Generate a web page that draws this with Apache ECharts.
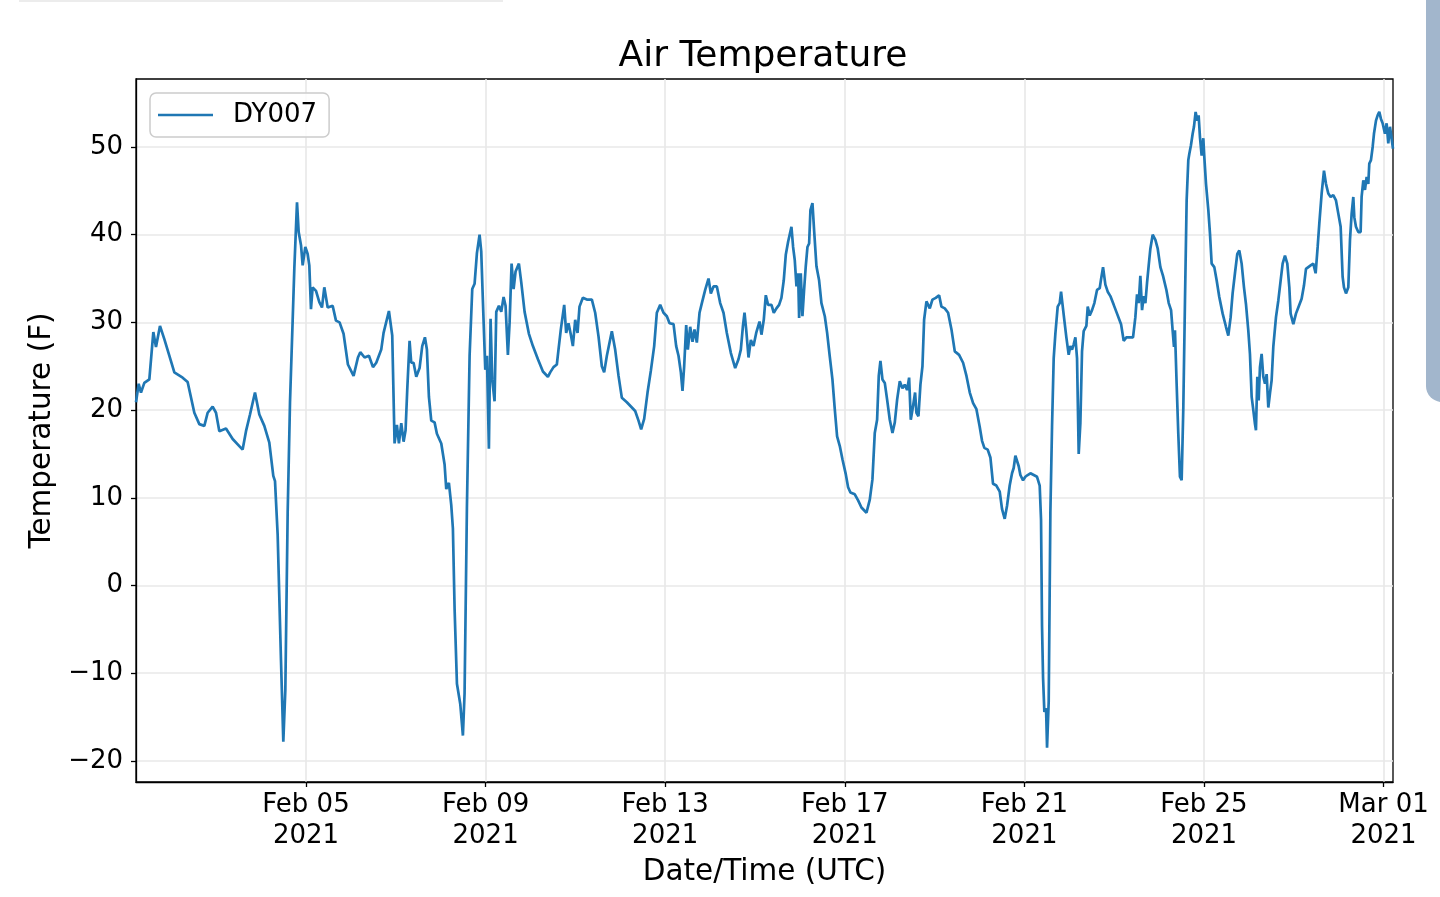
<!DOCTYPE html>
<html>
<head>
<meta charset="utf-8">
<script src="https://cdn.jsdelivr.net/npm/echarts@6/dist/echarts.min.js"></script>
<style>
html,body{margin:0;padding:0;background:#fff;}
#chart{width:1440px;height:897px;}
</style>
</head>
<body>
<div id="chart"></div>
<script>
const seriesName = 'DY007';
const chartTitle = 'Air Temperature';
const xAxisTitle = 'Date/Time (UTC)';
const yAxisTitle = 'Temperature (F)';
const startDate = '2021-02-01T00:00:00Z';

// time of each reading, in days after 2021-02-01 00:00 UTC
const daysSinceFeb01 = [
0.214,0.273,0.325,0.399,0.511,0.600,0.659,0.748,0.845,0.956,1.068,1.253,1.364,1.513,1.624,1.736,1.810,1.921,1.996,2.070,
2.218,2.367,2.515,2.589,2.664,2.753,2.864,2.961,3.072,3.183,3.272,3.310,3.369,3.443,3.495,3.540,3.592,3.644,3.703,3.740,
3.800,3.837,3.889,3.926,3.985,4.037,4.074,4.111,4.148,4.223,4.297,4.356,4.408,4.483,4.594,4.668,
4.748,4.837,4.934,5.060,5.157,5.209,5.305,5.402,5.492,5.565,5.676,5.728,5.847,5.921,5.973,6.025,6.070,6.122,6.174,6.218,
6.255,6.307,6.344,6.396,6.456,6.530,6.589,6.649,6.693,6.738,6.790,6.864,6.916,7.013,7.087,7.124,7.183,7.235,7.272,7.310,
7.362,7.436,7.495,7.532,7.584,7.644,7.703,7.755,7.807,7.866,7.903,7.941,7.993,8.030,8.074,8.111,8.148,8.200,8.238,8.297,
8.349,8.401,8.445,8.497,8.535,8.579,8.624,8.668,8.742,8.794,8.869,8.965,9.054,9.166,9.277,9.388,
9.439,9.513,9.587,9.624,9.676,9.751,9.795,9.847,9.899,9.944,9.996,10.048,10.092,10.166,10.255,10.367,10.441,10.515,10.589,10.641,
10.701,10.812,10.886,10.961,11.035,11.146,11.258,11.332,11.406,11.465,11.532,11.607,11.681,11.755,11.814,11.889,11.963,12.037,12.097,12.186,
12.245,12.297,12.349,12.386,12.423,12.468,12.505,12.557,12.609,12.653,12.705,12.765,12.817,12.891,12.965,13.017,13.076,13.151,13.225,13.299,
13.373,13.463,13.559,13.633,13.685,13.730,13.767,13.804,13.856,13.908,13.967,14.027,14.101,
14.144,14.196,14.241,14.292,14.367,14.419,14.478,14.537,14.589,14.641,14.686,14.738,14.812,14.849,14.886,14.924,14.961,14.983,15.020,15.057,
15.094,15.131,15.169,15.206,15.235,15.280,15.317,15.369,15.428,15.480,15.555,15.607,15.666,15.725,15.777,15.829,15.889,15.948,16.022,16.074,
16.126,16.223,16.297,16.371,16.483,16.557,16.616,16.668,16.720,16.757,16.794,16.839,16.891,16.943,17.002,17.062,17.114,17.166,17.225,17.284,
17.336,17.388,17.433,17.470,17.522,17.566,17.596,17.641,17.685,17.730,17.767,17.819,17.893,17.952,18.027,18.101,18.153,18.227,18.301,18.376,
18.450,18.546,18.635,18.710,18.784,18.858,18.932,
19.005,19.057,19.109,19.183,19.243,19.302,19.376,19.451,19.503,19.562,19.614,19.673,19.725,19.762,19.800,19.837,19.874,19.911,19.970,20.022,
20.074,20.134,20.208,20.282,20.341,20.371,20.393,20.416,20.445,20.483,20.505,20.542,20.579,20.616,20.653,20.690,20.742,20.787,20.817,20.846,
20.891,20.935,20.987,21.024,21.062,21.099,21.136,21.173,21.210,21.247,21.284,21.321,21.381,21.411,21.455,21.507,21.559,21.618,21.678,21.707,
21.752,21.804,21.856,21.915,21.990,22.064,22.153,22.212,22.272,22.346,22.420,22.472,22.509,22.546,22.583,22.621,22.658,22.695,22.732,22.769,
22.806,22.858,22.918,22.970,23.029,23.088,23.163,23.215,23.267,
23.302,23.332,23.354,23.391,23.428,23.465,23.503,23.540,23.577,23.614,23.651,23.673,23.710,23.748,23.777,23.814,23.852,23.881,23.911,23.948,
23.985,24.007,24.045,24.097,24.134,24.171,24.230,24.282,24.341,24.416,24.490,24.542,24.594,24.638,24.690,24.742,24.787,24.839,24.891,24.935,
24.987,25.024,25.062,25.099,25.136,25.158,25.188,25.218,25.247,25.284,25.321,25.359,25.396,25.433,25.470,25.507,25.544,25.604,25.656,25.708,
25.752,25.804,25.856,25.901,25.930,25.990,26.049,26.101,26.175,26.227,26.272,26.324,26.376,26.435,26.487,26.532,26.569,26.621,26.673,26.717,
26.769,26.821,26.880,26.940,26.992,27.044,27.088,27.118,27.163,27.215,27.252,27.289,27.326,27.348,27.385,27.437,27.489,27.511,27.549,27.586,
27.623,27.660,27.682,27.719,27.757,27.786,27.831,27.868,27.905,27.942,27.979,28.031,28.068,28.105,28.143,28.210
];

// air temperature (F) at each reading
const temps = [
20.9,23.0,22.0,23.1,23.5,28.9,27.2,29.6,28.1,26.2,24.3,23.7,23.2,19.7,18.4,18.2,19.7,20.4,19.7,17.6,
17.9,16.7,15.9,15.5,17.6,19.5,22.0,19.5,18.2,16.3,12.5,11.9,5.8,-8.5,-17.8,-11.9,8.3,20.9,30.2,36.1,
43.7,40.3,38.8,36.5,38.6,37.8,36.5,31.5,34.0,33.6,32.3,31.7,34.0,31.7,31.9,30.2,
30.0,28.7,25.2,23.9,26.0,26.6,26.0,26.2,24.9,25.4,26.9,28.8,31.3,28.5,16.2,18.3,16.2,18.5,16.4,17.7,
22.3,27.9,25.4,25.4,23.8,24.8,27.3,28.3,26.9,21.5,18.8,18.6,17.3,16.2,13.8,11.0,11.7,9.2,6.5,-2.7,
-11.2,-13.5,-17.1,-12.3,8.8,26.2,33.8,34.4,37.9,40.0,38.1,32.3,24.6,26.2,15.6,30.4,23.5,21.0,31.2,31.9,
31.2,32.9,31.9,26.3,30.0,36.7,33.8,35.8,36.7,34.6,31.2,28.7,27.3,25.8,24.4,23.8,
24.3,24.9,25.2,26.9,29.2,32.0,28.8,29.9,28.6,27.3,30.3,28.8,31.8,32.8,32.6,32.6,31.1,28.4,25.0,24.3,
26.2,29.0,26.9,23.9,21.4,20.9,20.3,19.9,18.8,17.8,19.0,22.0,24.5,27.3,31.1,32.0,31.1,30.7,29.9,29.8,
27.3,26.2,24.3,22.2,25.0,29.7,26.9,29.5,27.8,29.2,27.7,31.1,32.2,33.7,35.0,33.3,34.1,34.1,32.2,31.1,
28.8,26.5,24.8,25.8,26.9,29.5,31.1,29.2,26.0,28.0,27.3,28.8,30.1,
28.6,30.3,33.1,32.0,32.0,31.1,31.6,32.0,32.8,34.8,37.7,39.2,40.9,38.6,37.1,34.1,35.6,30.5,35.6,30.7,
33.7,36.4,38.6,39.0,42.8,43.6,40.5,36.4,34.8,32.2,30.7,28.8,26.1,23.5,20.1,17.0,15.9,14.4,12.7,11.2,
10.6,10.4,9.7,8.9,8.3,9.8,12.1,17.4,18.9,23.9,25.6,23.5,23.1,21.2,18.9,17.4,18.6,21.2,23.3,22.5,
22.9,22.3,23.7,18.9,20.5,22.0,19.7,19.3,22.9,25.0,30.3,32.4,31.6,32.6,32.8,33.1,31.8,31.6,31.1,29.2,
26.7,26.3,25.4,23.9,22.0,20.8,20.1,
18.1,16.5,15.7,15.5,14.6,11.6,11.4,10.7,8.7,7.6,9.1,11.4,12.8,13.4,14.8,14.6,13.6,12.6,12.0,12.4,
12.6,12.8,12.6,12.4,11.4,7.5,-4.6,-10.5,-14.4,-14.0,-18.5,-13.2,8.3,18.1,25.9,28.7,31.8,32.2,33.5,32.2,
30.2,28.3,26.3,27.3,26.9,27.5,28.3,25.9,15.0,18.5,26.7,29.0,29.6,31.8,30.8,31.4,32.2,33.7,33.9,34.9,
36.3,34.3,33.5,33.0,32.0,31.0,29.8,27.9,28.3,28.3,28.3,30.6,33.2,32.2,35.3,31.4,33.0,32.2,34.5,36.5,
38.4,40.0,39.4,38.4,36.3,35.3,33.7,32.2,31.4,
29.1,27.2,29.1,23.0,17.3,12.4,12.0,20.3,32.5,43.9,48.5,49.2,50.2,51.5,52.3,54.0,53.0,53.6,51.1,49.0,
51.0,48.9,45.8,42.8,40.1,36.7,36.3,34.8,32.9,31.0,29.5,28.5,30.6,33.3,35.6,37.8,38.2,36.7,34.0,32.1,
29.1,26.4,21.5,20.0,18.4,17.7,23.8,21.1,24.9,26.4,23.8,23.0,24.1,20.3,21.9,23.4,27.2,30.6,32.5,34.8,
36.7,37.6,36.7,34.0,31.0,29.8,31.0,31.7,32.7,34.2,36.1,36.3,36.5,36.7,35.6,38.6,41.3,44.7,47.3,45.8,
44.7,44.3,44.5,43.9,42.4,40.9,35.2,34.0,33.3,34.0,39.4,42.4,44.3,42.0,40.9,40.3,40.3,44.3,46.2,45.1,
46.6,45.8,48.1,48.5,50.0,51.5,53.0,53.6,54.0,53.2,52.7,51.5,52.7,50.4,52.3,49.8
];

const xTickDates = ['2021-02-05','2021-02-09','2021-02-13','2021-02-17','2021-02-21','2021-02-25','2021-03-01'];
const yTicks = [-20,-10,0,10,20,30,40,50];
const yMin = -22.4;
const yMax = 57.75;

const MONTHS = ['Jan','Feb','Mar','Apr','May','Jun','Jul','Aug','Sep','Oct','Nov','Dec'];
const DAY_MS = 86400000;
const base = Date.parse(startDate);
const lineData = daysSinceFeb01.map((d, i) => [base + d * DAY_MS, temps[i]]);
const xTickValues = xTickDates.map(s => Date.parse(s + 'T00:00:00Z'));

function fmtDate(v) {
  const d = new Date(v);
  const dd = String(d.getUTCDate()).padStart(2, '0');
  return MONTHS[d.getUTCMonth()] + ' ' + dd + '\n' + d.getUTCFullYear();
}

const FONT = 'DejaVu Sans';
const TXT = '#000000';

const chart = echarts.init(document.getElementById('chart'), null, {renderer: 'canvas'});
chart.setOption({
  animation: false,
  backgroundColor: '#ffffff',
  textStyle: {fontFamily: FONT, color: TXT},
  grid: {
    left: 136, top: 79, right: 47, bottom: 115,
    show: true, borderColor: '#000000', borderWidth: 1.3, backgroundColor: 'transparent',
    containLabel: false
  },
  graphic: [
    {type: 'line', shape: {x1: 19, y1: 1, x2: 503, y2: 1}, style: {stroke: '#ececec', lineWidth: 2}, silent: true},
    {type: 'rect', shape: {x: 1426, y: -30, width: 40, height: 432, r: 16}, style: {fill: '#a2b6cc'}, silent: true},
    {type: 'text', x: 763, y: 57, style: {text: chartTitle, fontSize: 36, fontFamily: FONT, fill: TXT, align: 'center', verticalAlign: 'middle'}, silent: true}
  ],
  legend: {
    show: true,
    left: 150, top: 93,
    orient: 'vertical',
    data: [{name: seriesName, icon: 'rect'}],
    itemWidth: 55, itemHeight: 2.6,
    padding: [9, 12, 9, 8],
    borderColor: '#cccccc', borderWidth: 1.5, borderRadius: 6,
    backgroundColor: 'rgba(255,255,255,0.85)',
    textStyle: {fontSize: 26, fontFamily: FONT, color: TXT, padding: [0, 0, 0, 15]},
    selectedMode: false
  },
  xAxis: {
    type: 'value',
    min: 'dataMin', max: 'dataMax',
    name: xAxisTitle,
    nameLocation: 'middle',
    nameGap: 72,
    nameTextStyle: {fontSize: 29.5, fontFamily: FONT, color: TXT},
    axisLine: {show: true, onZero: false, lineStyle: {color: '#000', width: 1.3}},
    axisTick: {show: true, length: 5, lineStyle: {color: '#000', width: 1.3}, customValues: xTickValues},
    axisLabel: {
      customValues: xTickValues,
      formatter: fmtDate,
      fontSize: 26, lineHeight: 31, fontFamily: FONT, color: TXT, margin: 8, align: 'center'
    },
    splitLine: {show: true, lineStyle: {color: '#e8e8e8', width: 1.6}}
  },
  yAxis: {
    type: 'value',
    min: yMin, max: yMax,
    name: yAxisTitle,
    nameLocation: 'middle',
    nameGap: 77,
    nameRotate: 90,
    nameTextStyle: {fontSize: 29.5, fontFamily: FONT, color: TXT},
    axisLine: {show: true, onZero: false, lineStyle: {color: '#000', width: 1.3}},
    axisTick: {show: true, length: 5, lineStyle: {color: '#000', width: 1.3}, customValues: yTicks},
    axisLabel: {
      customValues: yTicks,
      formatter: v => (v < 0 ? '\u2212' + Math.abs(v) : String(v)),
      fontSize: 26, fontFamily: FONT, color: TXT, margin: 13
    },
    splitLine: {show: true, lineStyle: {color: '#e8e8e8', width: 1.6}}
  },
  series: [{
    name: seriesName,
    type: 'line',
    data: lineData,
    symbol: 'none',
    showSymbol: false,
    lineStyle: {color: '#1f77b4', width: 2.7},
    itemStyle: {color: '#1f77b4'},
    smooth: false,
    z: 3
  }]
});
</script>
</body>
</html>
